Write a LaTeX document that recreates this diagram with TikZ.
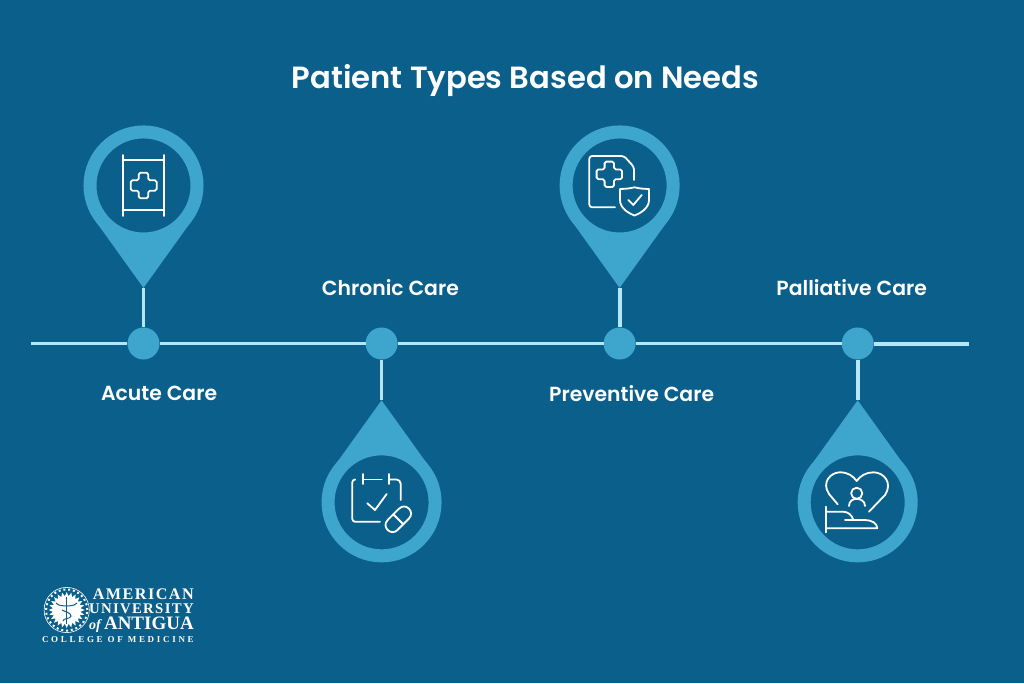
\documentclass[tikz,border=0pt]{standalone}
\usepackage{fontspec}
\usetikzlibrary{shapes.geometric}
\newfontfamily\labelfont{Poppins SemiBold}
\newfontfamily\logofont{Liberation Serif}
\definecolor{bgblue}{HTML}{0B608B}
\definecolor{pinblue}{HTML}{3EA5CD}
\definecolor{linecyan}{HTML}{B4E6F7}
\tikzset{
    titletext/.style={text=white, font=\labelfont\fontsize{21.8}{26}\selectfont},
    caretext/.style={text=white, font=\labelfont\fontsize{14.5}{17}\selectfont},
    dotnode/.style={circle, fill=pinblue, minimum size=0.8cm, inner sep=0pt, outer sep=0pt},
    pinhead/.style={circle, draw=pinblue, fill=bgblue, line width=0.325cm, minimum size=2.675cm, inner sep=0pt, outer sep=0pt},
    pintip/.style={fill=pinblue},
    timeline/.style={draw=linecyan, line width=0.095cm},
    iconline/.style={draw=white, line width=0.045cm, line cap=round, line join=round},
    logotext/.style={text=white, inner sep=0pt, anchor=east}
}
\begin{document}
\begin{tikzpicture}[x=0.025cm, y=-0.025cm, node distance=5.95cm]
        \fill[bgblue] (0,0) rectangle (1024,683);
        \useasboundingbox (0,0) rectangle (1024,683);

        % Title
        \node[titletext] (title) at (525.5,81) {Patient Types Based on Needs};

        % Timeline
        \coordinate (linestart) at (31,343.5);
        \coordinate (lineend) at (969,344);
        \node[dotnode] (acutedot) at (143.5,343.5) {};
        \node[dotnode, right of=acutedot] (chronicdot) {};
        \node[dotnode, right of=chronicdot] (preventivedot) {};
        \node[dotnode, right of=preventivedot] (palliativedot) {};
        \draw[timeline] (linestart) -- (acutedot);
        \draw[timeline] (acutedot) -- (chronicdot);
        \draw[timeline] (chronicdot) -- (preventivedot);
        \draw[timeline] (preventivedot) -- (palliativedot);
        \draw[timeline] (palliativedot.east |- lineend) -- (lineend);

        % Acute
        \coordinate[above of=acutedot, node distance=1.39cm] (acutetip);
        \fill[pintip] (acutetip) -- ++(-1.22cm,1.70cm) -- ++(2.44cm,0cm) -- cycle;
        \node[pinhead, above of=acutedot, node distance=3.95cm] (acutehead) {};
        \draw[timeline] (acutetip) -- (acutedot);
        \node[caretext, below of=acutedot, node distance=1.24cm, xshift=0.39cm] (acutelabel) {Acute Care};

        % Chronic
        \coordinate[below of=chronicdot, node distance=1.42cm] (chronictip);
        \fill[pintip] (chronictip) -- ++(-1.22cm,-1.70cm) -- ++(2.44cm,0cm) -- cycle;
        \node[pinhead, below of=chronicdot, node distance=3.97cm] (chronichead) {};
        \draw[timeline] (chronictip) -- (chronicdot);
        \node[caretext, above of=chronicdot, node distance=1.39cm, xshift=0.22cm] (chroniclabel) {Chronic Care};

        % Preventive
        \coordinate[above of=preventivedot, node distance=1.39cm] (preventivetip);
        \fill[pintip] (preventivetip) -- ++(-1.22cm,1.70cm) -- ++(2.44cm,0cm) -- cycle;
        \node[pinhead, above of=preventivedot, node distance=3.95cm] (preventivehead) {};
        \draw[timeline] (preventivetip) -- (preventivedot);
        \node[caretext, below of=preventivedot, node distance=1.24cm, xshift=0.3cm] (preventivelabel) {Preventive Care};

        % Palliative
        \coordinate[below of=palliativedot, node distance=1.42cm] (palliativetip);
        \fill[pintip] (palliativetip) -- ++(-1.22cm,-1.70cm) -- ++(2.44cm,0cm) -- cycle;
        \node[pinhead, below of=palliativedot, node distance=3.97cm] (palliativehead) {};
        \draw[timeline] (palliativetip) -- (palliativedot);
        \node[caretext, above of=palliativedot, node distance=1.39cm, xshift=-0.15cm] (palliativelabel) {Palliative Care};

        % Stretcher icon
        \draw[iconline] (123.3,155) -- (123.3,216);
        \draw[iconline] (164,155) -- (164,216);
        \draw[iconline] (123.3,160) -- (164,160);
        \draw[iconline] (123.3,210) -- (164,210);
        \draw[iconline, rounded corners=1.2pt] (138.8,172.7) -- (148.2,172.7) -- (148.2,180.3) -- (156.7,180.3) -- (156.7,190.7) -- (148.2,190.7) -- (148.2,198.3) -- (138.8,198.3) -- (138.8,190.7) -- (130.7,190.7) -- (130.7,180.3) -- (138.8,180.3) -- cycle;

        % Calendar icon
        \draw[iconline, rounded corners=2pt] (355,479.5) -- (352.3,479.5) -- (352.3,521.7) -- (380,521.7);
        \draw[iconline] (363.3,474) -- (363.3,484);
        \draw[iconline] (363.3,479.5) -- (381.7,479.5);
        \draw[iconline] (389.3,474) -- (389.3,484);
        \draw[iconline, rounded corners=3pt] (389.3,479.5) -- (400.7,479.5) -- (400.7,500);
        \draw[iconline] (367.3,503.3) -- (375,510) -- (386.7,494);
        \draw[iconline] (408.95,518.55) .. controls (415.5,511.95) and (405.65,502.05) .. (399.05,508.65) -- (387.65,520.05) .. controls (381.05,526.65) and (391,536.55) .. (397.55,529.95) -- cycle;
        \draw[iconline] (403.25,524.25) -- (393.35,514.35);

        % Document icon
        \draw[iconline, rounded corners=2pt] (615,207.3) -- (589.3,207.3) -- (589.3,156) -- (624,156) -- (634,167) -- (634,180);
        \draw[iconline, rounded corners=1.2pt] (604.6,161.6) -- (614,161.6) -- (614,169.4) -- (622,169.4) -- (622,179.2) -- (614,179.2) -- (614,187) -- (604.6,187) -- (604.6,179.2) -- (596.6,179.2) -- (596.6,169.4) -- (604.6,169.4) -- cycle;
        \draw[iconline] (634.5,187.3) .. controls (640,188.8) and (645,188.8) .. (649,189) -- (649,200) .. controls (649,208) and (641,213) .. (634.5,215.5) .. controls (628,213) and (620,208) .. (620,200) -- (620,189) .. controls (624,188.8) and (629,188.8) .. (634.5,187.3);
        \draw[iconline] (628.3,200) -- (633.3,205) -- (641.7,195);

        % Heart icon
        \draw[iconline] (837.7,504.3) -- (829,494) .. controls (821,482) and (831,472.3) .. (840,472.3) .. controls (848,472.3) and (853,476) .. (856.7,481) .. controls (860,476) and (866,472.3) .. (873.3,472.3) .. controls (884,472.3) and (893,483) .. (885,495) -- (869,511.7);
        \node[iconline, draw, circle, minimum size=0.28cm, inner sep=0pt] (personhead) at (856.7,493.3) {};
        \draw[iconline] (849,506) .. controls (849,501) and (853,498.8) .. (856.7,498.8) .. controls (860.5,498.8) and (865,501) .. (865,506);
        \draw[iconline] (826,506.7) -- (826,532.3);
        \draw[iconline] (826,511.7) -- (843,511.7) .. controls (848,511.7) and (852,515) .. (853.3,520);
        \draw[iconline] (845,520) -- (865,520) .. controls (871,520) and (877.3,523) .. (877.3,528.3) -- (826,528.3);

        % Logo
        \node[circle, draw=white, line width=0.015cm, minimum size=1.13cm, inner sep=0pt] (sealring) at (66.7,610) {};
        \node[circle, draw=white, line width=0.05cm, dotted, minimum size=1.03cm, inner sep=0pt] (sealdots) at (66.7,610) {};
        \node[star, star points=24, star point ratio=1.3, fill=white, minimum size=0.9cm, inner sep=0pt] (sealsun) at (66.7,610) {};
        \draw[bgblue, line width=0.03cm] (66.7,597) -- (66.7,624);
        \draw[bgblue, line width=0.025cm] (56,603) .. controls (60,607) and (63,605) .. (66.7,606) .. controls (70,605) and (73,607) .. (77,603);
        \draw[bgblue, line width=0.025cm] (62,610) .. controls (66,612) and (71,613) .. (71,616) .. controls (71,619) and (63,618) .. (63,621);
        \node[logotext, font=\logofont\bfseries\fontsize{11.5}{13}\selectfont\addfontfeature{LetterSpace=9}] (logoamerican) at (194,594) {AMERICAN};
        \node[logotext, font=\logofont\bfseries\fontsize{10.5}{13}\selectfont\addfontfeature{LetterSpace=9}] (logouniversity) at (194,609) {UNIVERSITY};
        \node[logotext, font=\logofont\bfseries\fontsize{13.5}{13}\selectfont] (logoantigua) at (194,625) {{\itshape\fontsize{10}{10}\selectfont of}\,ANTIGUA};
        \node[logotext, font=\logofont\bfseries\fontsize{6.4}{8}\selectfont\addfontfeature{LetterSpace=30}] (logocollege) at (194,640) {COLLEGE OF MEDICINE};
    \end{tikzpicture}
\end{document}
